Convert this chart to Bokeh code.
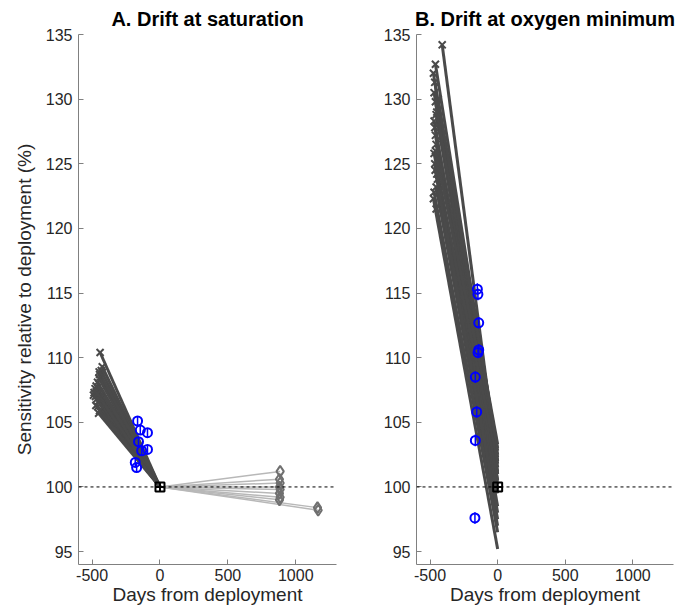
from bokeh.plotting import figure
from bokeh.layouts import row
from bokeh.models import Range1d, Span, FixedTicker
from bokeh.embed import file_html
from bokeh.resources import INLINE

# ---- Panel A: drift at saturation ----
a_pre_days = [-441, -425, -432, -445, -450, -460, -470, -478, -485, -490, -475,
              -465, -455, -440, -430, -448, -462, -472, -436, -452, -458, -445]
a_pre_vals = [110.4, 109.3, 109.0, 108.7, 108.4, 108.1, 107.8, 107.6, 107.3, 107.1, 107.0,
              106.8, 106.6, 106.9, 107.5, 108.9, 107.2, 106.3, 106.0, 105.7, 106.2, 105.9]
a_circ_days = [-165, -145, -92, -158, -92, -135, -182, -172]
a_circ_vals = [105.1, 104.4, 104.2, 103.5, 102.9, 102.8, 101.9, 101.5]
a_post_days = [885, 880, 885, 880, 885, 880, 885, 880, 1160, 1165]
a_post_vals = [101.2, 100.6, 100.3, 100.0, 99.8, 99.5, 99.2, 99.0, 98.4, 98.2]

# ---- Panel B: drift at oxygen minimum ----
b_pre_days = [-410, -460, -475, -465, -470, -460, -455, -470, -465, -460, -455, -470,
              -465, -450, -445, -455, -470, -475, -460, -450, -440, -455, -462]
b_pre_vals = [134.2, 132.7, 132.0, 131.3, 130.5, 129.8, 128.8, 128.3, 127.8, 127.2, 126.5, 125.8,
              125.0, 124.2, 123.8, 123.2, 122.8, 122.3, 126.0, 129.0, 130.0, 121.5, 124.5]
b_end_vals = [101.5, 102.5, 101.0, 102.0, 101.0, 100.5, 101.8, 100.2, 102.3, 99.8, 101.2, 100.5,
              99.5, 102.0, 98.5, 97.5, 96.5, 95.2, 103.0, 103.3, 102.8, 97.0, 98.0]
b_circ_days = [-150, -146, -140, -140, -145, -165, -155, -165, -168]
b_circ_vals = [115.3, 114.9, 112.7, 110.6, 110.4, 108.5, 105.8, 103.6, 97.6]

ref_day = 0
ref_val = 100

x_ticks = [-500, 0, 500, 1000]
x_tick_labels = {-500: "-500", 0: "0", 500: "500", 1000: "1000"}
y_ticks = [95, 100, 105, 110, 115, 120, 125, 130, 135]

FONT = "Liberation Sans"
DARK = "#4a4a4a"
BLUE = "#0000ff"
AXIS_C = "#808080"
TEXT_C = "#262626"


def style(p, title, ylabel=None):
    p.title.text = title
    p.title.align = "center"
    p.title.text_font = FONT
    p.title.text_font_size = "20px"
    p.title.text_font_style = "bold"
    p.title.text_color = "#000000"
    p.title.offset = 0
    p.outline_line_color = None
    p.xgrid.visible = False
    p.ygrid.visible = False
    p.xaxis.ticker = FixedTicker(ticks=x_ticks)
    p.xaxis.major_label_overrides = x_tick_labels
    p.yaxis.ticker = FixedTicker(ticks=y_ticks)
    for ax in (p.xaxis[0], p.yaxis[0]):
        ax.axis_line_color = AXIS_C
        ax.major_tick_line_color = AXIS_C
        ax.minor_tick_line_color = None
        ax.major_tick_in = 5
        ax.major_tick_out = 0
        ax.major_label_text_font = FONT
        ax.major_label_text_font_size = "16px"
        ax.major_label_text_color = TEXT_C
        ax.axis_label_text_font = FONT
        ax.axis_label_text_font_style = "normal"
        ax.axis_label_text_color = TEXT_C
    p.xaxis.axis_label = "Days from deployment"
    p.xaxis.axis_label_text_font_size = "19px"
    p.xaxis.major_label_standoff = 4
    p.xaxis.axis_label_standoff = 0
    p.yaxis.major_label_standoff = 6
    if ylabel:
        p.yaxis.axis_label = ylabel
        p.yaxis.axis_label_text_font_size = "19px"
        p.yaxis.axis_label_standoff = 8
    p.add_layout(Span(location=ref_val, dimension="width", line_color="black",
                      line_width=1, line_dash="3 3"))


def make_fig(width, left, right):
    return figure(width=width, height=614, output_backend="svg", toolbar_location=None,
                  x_range=Range1d(-600, 1300), y_range=Range1d(94, 135),
                  min_border_left=left, min_border_right=right,
                  min_border_top=29, min_border_bottom=50)


# Panel A
pa = make_fig(370, 78, 34)
style(pa, "A. Drift at saturation", "Sensitivity relative to deployment (%)")
pa.multi_line(xs=[[ref_day, d] for d in a_post_days], ys=[[ref_val, v] for v in a_post_vals],
              line_color="#b8b8b8", line_width=1.5)
pa.scatter(a_post_days, a_post_vals, marker="diamond", size=11, fill_color=None,
           line_color="#707070", line_width=2)
pa.multi_line(xs=[[d, ref_day] for d in a_pre_days], ys=[[v, ref_val] for v in a_pre_vals],
              line_color=DARK, line_width=3)
pa.scatter(a_pre_days, a_pre_vals, marker="x", size=10, line_color=DARK, line_width=2)
pa.segment(a_circ_days, [v - 0.35 for v in a_circ_vals], a_circ_days,
           [v + 0.35 for v in a_circ_vals], line_color=BLUE, line_width=1.5)
pa.scatter(a_circ_days, a_circ_vals, marker="circle", size=9, fill_color=None,
           line_color=BLUE, line_width=2)
pa.scatter([ref_day], [ref_val], marker="square_cross", size=9, fill_color=None,
           line_color="black", line_width=2)

# Panel B
pb = make_fig(314, 46, 11)
style(pb, "B. Drift at oxygen minimum")
pb.multi_line(xs=[[d, ref_day] for d in b_pre_days],
              ys=[[v, e] for v, e in zip(b_pre_vals, b_end_vals)],
              line_color=DARK, line_width=3)
pb.scatter(b_pre_days, b_pre_vals, marker="x", size=10, line_color=DARK, line_width=2)
pb.segment(b_circ_days, [v - 0.45 for v in b_circ_vals], b_circ_days,
           [v + 0.45 for v in b_circ_vals], line_color=BLUE, line_width=1.5)
pb.scatter(b_circ_days, b_circ_vals, marker="circle", size=9, fill_color=None,
           line_color=BLUE, line_width=2)
pb.scatter([ref_day], [ref_val], marker="square_cross", size=9, fill_color=None,
           line_color="black", line_width=2)

layout = row(pa, pb, spacing=0)
open("out.html", "w").write(file_html(layout, INLINE))
